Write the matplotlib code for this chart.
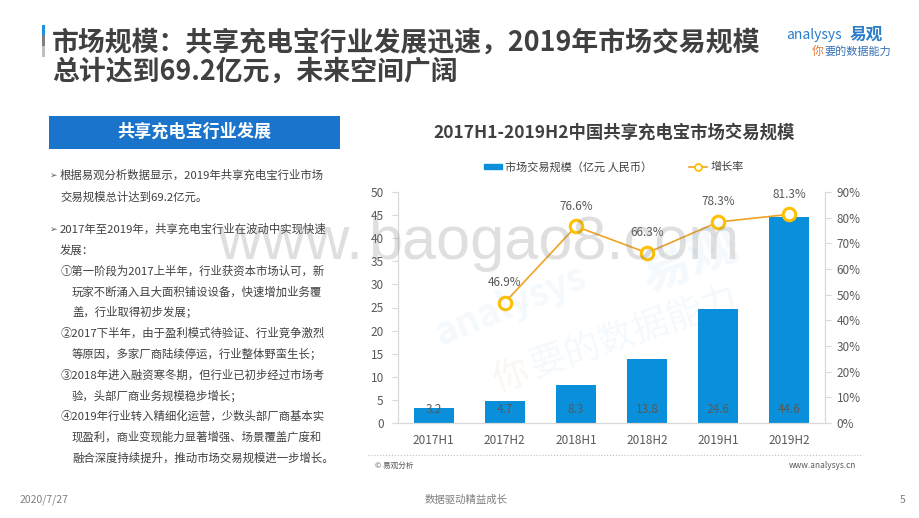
import matplotlib
matplotlib.use("Agg")
import matplotlib.pyplot as plt
from matplotlib.patches import Rectangle, Patch
from matplotlib.lines import Line2D

plt.rcParams['font.family'] = ['Noto Sans CJK SC', 'DejaVu Sans']

# data
periods = ['2017H1', '2017H2', '2018H1', '2018H2', '2019H1', '2019H2']
market_size = [3.2, 4.7, 8.3, 13.8, 24.6, 44.6]
rate_periods = ['2017H2', '2018H1', '2018H2', '2019H1', '2019H2']
growth_rate = [46.9, 76.6, 66.3, 78.3, 81.3]
left_ticks = [0, 5, 10, 15, 20, 25, 30, 35, 40, 45, 50]
right_ticks = [0, 10, 20, 30, 40, 50, 60, 70, 80, 90]

title_lines = ['市场规模：共享充电宝行业发展迅速，2019年市场交易规模',
               '总计达到69.2亿元，未来空间广阔']
chart_title = '2017H1-2019H2中国共享充电宝市场交易规模'
box_title = '共享充电宝行业发展'
body_lines = [
    ('b', '根据易观分析数据显示，2019年共享充电宝行业市场', 175),
    ('t', '交易规模总计达到69.2亿元。', 197),
    ('b', '2017年至2019年，共享充电宝行业在波动中实现快速', 229),
    ('t', '发展：', 250),
    ('n', '①第一阶段为2017上半年，行业获资本市场认可，新', 271),
    ('c', '玩家不断涌入且大面积铺设设备，快速增加业务覆', 292),
    ('c', '盖，行业取得初步发展；', 312),
    ('n', '②2017下半年，由于盈利模式待验证、行业竞争激烈', 333),
    ('c', '等原因，多家厂商陆续停运，行业整体野蛮生长；', 354),
    ('n', '③2018年进入融资寒冬期，但行业已初步经过市场考', 375),
    ('c', '验，头部厂商业务规模稳步增长；', 396),
    ('n', '④2019年行业转入精细化运营，少数头部厂商基本实', 416),
    ('c', '现盈利，商业变现能力显著增强、场景覆盖广度和', 437),
    ('c', '融合深度持续提升，推动市场交易规模进一步增长。', 458),
]

W, H = 920, 518
def fx(px):
    return px / W
def fy(py):
    return 1 - py / H

bar_color = '#0A8FDA'
line_color = '#F0A322'
marker_edge = '#FFC000'
text_dark = '#404040'
tick_gray = '#595959'
axis_gray = '#d9d9d9'

fig = plt.figure(figsize=(9.2, 5.18), dpi=100)
fig.patch.set_facecolor('white')

# header
fig.add_artist(Rectangle((fx(42), fy(35)), fx(3), 10 / H, transform=fig.transFigure, color='#1E90E0', lw=0))
fig.add_artist(Rectangle((fx(42), fy(46.5)), fx(3), 11.5 / H, transform=fig.transFigure, color='#7f7f7f', lw=0))
fig.add_artist(Rectangle((fx(42), fy(57)), fx(3), 10.5 / H, transform=fig.transFigure, color='#bfbfbf', lw=0))
fig.text(fx(52), fy(43), title_lines[0], fontsize=19.35, fontweight='bold', color=text_dark, va='center')
fig.text(fx(52), fy(72), title_lines[1], fontsize=19.35, fontweight='bold', color=text_dark, va='center')

# logo
fig.text(fx(786), fy(35), 'analysys', fontsize=10, color='#2A7DC9', va='center', style='italic')
fig.text(fx(850), fy(35), '易观', fontsize=12, fontweight='bold', color='#2A7DC9', va='center')
fig.text(fx(812), fy(51), '你', fontsize=8.5, color='#E07B39', va='center')
fig.text(fx(824), fy(51), '要的数据能力', fontsize=8, color='#3570B5', va='center')

# left panel
fig.add_artist(Rectangle((fx(49), fy(149)), fx(340) - fx(49), 33 / H, transform=fig.transFigure,
                         color='#1A74CC', lw=0))
fig.text(fx(194), fy(132), box_title, fontsize=12.3, fontweight='bold', color='white', ha='center', va='center')
for kind, line, y in body_lines:
    if kind == 'b':
        fig.text(fx(50), fy(y), '➢', fontsize=6.5, color=tick_gray, va='center')
    x = {'b': 60, 't': 60, 'n': 61, 'c': 72}[kind]
    fig.text(fx(x), fy(y), line, fontsize=8.2, color=text_dark, va='center')

# chart
fig.text(fx(614), fy(133), chart_title, fontsize=12.5, fontweight='bold', color=text_dark, ha='center', va='center')

ax = fig.add_axes([fx(398), fy(423), fx(825) - fx(398), 231 / H])
xs = list(range(len(periods)))
ax.bar(xs, market_size, width=0.56, color=bar_color, zorder=2)
for i, v in enumerate(market_size):
    ax.text(i, 3.0, f'{v}', ha='center', va='center', fontsize=8.5, color=tick_gray, zorder=3)
ax.set_xlim(-0.5, len(periods) - 0.5)
ax.set_ylim(0, 50)
ax.set_yticks(left_ticks)
ax.set_xticks(xs)
ax.set_xticklabels(periods)
ax.tick_params(axis='y', length=4.3, width=0.8, color=axis_gray, labelcolor=tick_gray, labelsize=8.5, pad=6)
ax.tick_params(axis='x', length=0, labelcolor=tick_gray, labelsize=8.5, pad=8)
ax.spines['top'].set_visible(False)
for s in ['left', 'right', 'bottom']:
    ax.spines[s].set_color(axis_gray)
    ax.spines[s].set_linewidth(0.8)

ax2 = ax.twinx()
rx = [periods.index(p) for p in rate_periods]
ax2.plot(rx, growth_rate, color=line_color, lw=1.2, marker='o', ms=9, mfc='white', mec=marker_edge, mew=2.2,
         zorder=4)
for i, v in zip(rx, growth_rate):
    ax2.annotate(f'{v}%', (i, v), xytext=(0, 14.5), textcoords='offset points', ha='center', va='center',
                 fontsize=8.5, color=tick_gray)
ax2.set_ylim(0, 90)
ax2.set_yticks(right_ticks)
ax2.set_yticklabels([f'{t}%' for t in right_ticks])
ax2.tick_params(axis='y', length=4.3, width=0.8, color=axis_gray, labelcolor=tick_gray, labelsize=8.5, pad=4)
ax2.spines['top'].set_visible(False)
for s in ['left', 'right', 'bottom']:
    ax2.spines[s].set_color(axis_gray)
    ax2.spines[s].set_linewidth(0.8)

handles = [Patch(color=bar_color),
           Line2D([], [], color=line_color, lw=1.2, marker='o', ms=5, mfc='white', mec=marker_edge, mew=1.3)]
fig.legend(handles, ['市场交易规模（亿元 人民币）', '增长率'], loc='center', bbox_to_anchor=(fx(614), fy(167)),
           ncol=2, frameon=False, fontsize=8, handlelength=1.6, handleheight=0.4, handletextpad=0.3,
           columnspacing=3.3, labelcolor=text_dark)

# source line
fig.add_artist(Line2D([fx(368), fx(862)], [fy(455), fy(455)], transform=fig.transFigure, color='#bfbfbf',
                      lw=0.8, ls=':'))
fig.text(fx(375), fy(466), '© 易观分析', fontsize=5.5, color=tick_gray, va='center')
fig.text(fx(856), fy(466), 'www.analysys.cn', fontsize=6, color=tick_gray, va='center', ha='right')

# footer
fig.text(fx(20), fy(500), '2020/7/27', fontsize=7.5, color='#7f7f7f', va='center')
fig.text(fx(466), fy(500), '数据驱动精益成长', fontsize=7.5, color='#7f7f7f', va='center', ha='center')
fig.text(fx(905), fy(500), '5', fontsize=7.5, color='#7f7f7f', va='center', ha='right')

# watermarks
fig.text(fx(363), fy(259), 'www.', fontsize=44, color='#808080', alpha=0.25, ha='right', va='baseline',
         family='Liberation Sans', zorder=6)
fig.text(fx(368), fy(259), 'baogao8.com', fontsize=44, color='#808080', alpha=0.25, ha='left', va='baseline',
         family='Liberation Sans', zorder=6)
fig.text(fx(440), fy(345), 'analysys', fontsize=27, fontweight='bold', color='#3B9BDB', alpha=0.06,
         rotation=22, rotation_mode='anchor', va='baseline', zorder=6)
fig.text(fx(648), fy(292), '易观', fontsize=36, fontweight='bold', color='#3B9BDB', alpha=0.06,
         rotation=21, rotation_mode='anchor', va='baseline', zorder=6)
fig.text(fx(497), fy(392), '你', fontsize=26, color='#E07B39', alpha=0.07,
         rotation=19, rotation_mode='anchor', va='baseline', zorder=6)
fig.text(fx(535), fy(378), '要的数据能力', fontsize=26, color='#3B9BDB', alpha=0.06,
         rotation=19, rotation_mode='anchor', va='baseline', zorder=6)

fig.savefig('out.png', dpi=100, facecolor='white')
